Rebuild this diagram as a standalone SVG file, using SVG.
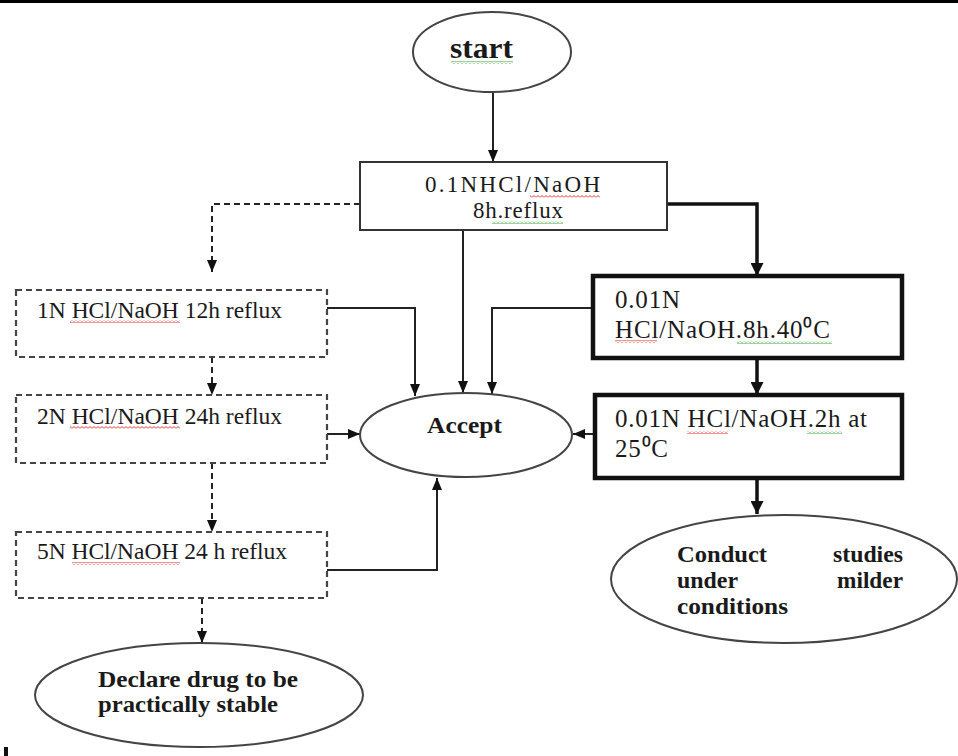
<svg xmlns="http://www.w3.org/2000/svg" width="958" height="756" viewBox="0 0 958 756">
  <style>
    .txt { font-family: "Liberation Serif", "Times New Roman", serif; font-size: 23.5px; fill: #1a1a1a; }
    .bold { font-weight: bold; }
    .lg { font-size: 29px; }
    .md { font-size: 23.5px; }
    .wide { font-size: 25px; }
    .tight { font-size: 23px; }
    .box { fill: #ffffff; stroke: #333333; stroke-width: 2; }
    .dash { fill: #ffffff; stroke: #444444; stroke-width: 2.2; stroke-dasharray: 6 4; }
    .heavy { fill: #ffffff; stroke: #111111; stroke-width: 4.5; }
    .oval { fill: #ffffff; stroke: #444444; stroke-width: 2; }
    .wire { fill: none; stroke: #222222; stroke-width: 2; }
    .wire.dashed { stroke-dasharray: 6 4; }
    .wire.thick { stroke: #111111; stroke-width: 3.5; }
    .squig-red { fill: url(#waveRed); }
    .squig-green { fill: url(#waveGreen); }
  </style>
  <defs>
    <marker id="head" viewBox="0 0 12 10" refX="12" refY="5" markerWidth="12" markerHeight="10" markerUnits="userSpaceOnUse" orient="auto">
      <path d="M0,0 L12,5 L0,10 z" fill="#111111"/>
    </marker>
    <marker id="headThick" viewBox="0 0 12 12" refX="12" refY="6" markerWidth="13" markerHeight="13" markerUnits="userSpaceOnUse" orient="auto">
      <path d="M0,0 L12,6 L0,12 z" fill="#111111"/>
    </marker>
    <pattern id="waveRed" width="4" height="3" patternUnits="userSpaceOnUse">
      <path d="M0,2.5 L2,0.5 L4,2.5" fill="none" stroke="#e03030" stroke-width="1"/>
    </pattern>
    <pattern id="waveGreen" width="4" height="3" patternUnits="userSpaceOnUse">
      <path d="M0,2.5 L2,0.5 L4,2.5" fill="none" stroke="#3aa83a" stroke-width="1"/>
    </pattern>
  </defs>

  <rect x="0" y="0" width="958" height="756" fill="#ffffff"/>
  <!-- page edge strip at the top and a stray mark at the lower left -->
  <rect x="0" y="0" width="958" height="3" fill="#000000"/>
  <rect x="4" y="747" width="4" height="9" fill="#111111"/>

  <g id="connectors">
    <path class="wire" d="M493,93 V162" marker-end="url(#head)"/>
    <path class="wire dashed" d="M360,204 H212 V272" marker-end="url(#head)"/>
    <path class="wire" d="M327,308 H415 V396" marker-end="url(#head)"/>
    <path class="wire" d="M463,230 V393" marker-end="url(#head)"/>
    <path class="wire" d="M593,308 H492 V394" marker-end="url(#head)"/>
    <path class="wire thick" d="M667,204 H757 V276" marker-end="url(#headThick)"/>
    <path class="wire dashed" d="M212,357 V395" marker-end="url(#head)"/>
    <path class="wire" d="M327,434 H360" marker-end="url(#head)"/>
    <path class="wire thick" d="M757,358 V395" marker-end="url(#headThick)"/>
    <path class="wire" d="M595,434 H573" marker-end="url(#head)"/>
    <path class="wire thick" d="M757,478 V514" marker-end="url(#headThick)"/>
    <path class="wire dashed" d="M212,463 V532" marker-end="url(#head)"/>
    <path class="wire" d="M327,570 H437 V478" marker-end="url(#head)"/>
    <path class="wire dashed" d="M202,598 V643" marker-end="url(#head)"/>
  </g>

  <g id="start">
    <ellipse class="oval" cx="492" cy="52" rx="79" ry="40"/>
    <text class="txt bold lg" x="450" y="58" textLength="63" lengthAdjust="spacingAndGlyphs">start</text>
    <rect class="squig-green" x="451" y="61" width="62" height="3"/>
  </g>

  <g id="reflux-01N">
    <rect class="box" x="360" y="162" width="307" height="68"/>
    <text class="txt tight" x="425" y="192" textLength="175">0.1NHCl/NaOH</text>
    <text class="txt tight" x="473" y="218" textLength="90">8h.reflux</text>
    <rect class="squig-red" x="530" y="195" width="70" height="3"/>
    <rect class="squig-green" x="492" y="221" width="71" height="3"/>
  </g>

  <g id="reflux-1N">
    <rect class="dash" x="16" y="290" width="311" height="67"/>
    <text class="txt" x="37" y="318" textLength="245">1N HCl/NaOH 12h reflux</text>
    <rect class="squig-red" x="70" y="320" width="110" height="3"/>
  </g>

  <g id="reflux-2N">
    <rect class="dash" x="16" y="395" width="311" height="68"/>
    <text class="txt" x="37" y="424" textLength="245">2N HCl/NaOH 24h reflux</text>
    <rect class="squig-red" x="70" y="426" width="110" height="3"/>
  </g>

  <g id="reflux-5N">
    <rect class="dash" x="16" y="532" width="311" height="66"/>
    <text class="txt" x="37" y="559" textLength="250">5N HCl/NaOH 24 h reflux</text>
    <rect class="squig-red" x="72" y="562" width="108" height="3"/>
  </g>

  <g id="accept">
    <ellipse class="oval" cx="466" cy="435" rx="106" ry="42"/>
    <text class="txt bold md" x="427" y="433" textLength="75" lengthAdjust="spacingAndGlyphs">Accept</text>
  </g>

  <g id="mild-8h-40C">
    <rect class="heavy" x="593" y="276" width="309" height="82"/>
    <text class="txt wide" x="615" y="308" textLength="65">0.01N</text>
    <text class="txt wide" x="615" y="338" textLength="215">HCl/NaOH.8h.40⁰C</text>
    <rect class="squig-red" x="615" y="340" width="42" height="3"/>
    <rect class="squig-green" x="737" y="341" width="95" height="3"/>
  </g>

  <g id="mild-2h-25C">
    <rect class="heavy" x="595" y="395" width="307" height="83"/>
    <text class="txt wide" x="615" y="427" textLength="252">0.01N HCl/NaOH.2h at</text>
    <text class="txt wide" x="615" y="457" textLength="53">25⁰C</text>
    <rect class="squig-red" x="687" y="431" width="41" height="3"/>
    <rect class="squig-green" x="807" y="431" width="35" height="3"/>
  </g>

  <g id="milder-conditions">
    <ellipse class="oval" cx="784" cy="579" rx="173" ry="64"/>
    <text class="txt bold md" x="677" y="562" textLength="90" lengthAdjust="spacingAndGlyphs">Conduct</text>
    <text class="txt bold md" x="833" y="562" textLength="70" lengthAdjust="spacingAndGlyphs">studies</text>
    <text class="txt bold md" x="677" y="588" textLength="61" lengthAdjust="spacingAndGlyphs">under</text>
    <text class="txt bold md" x="837" y="588" textLength="66" lengthAdjust="spacingAndGlyphs">milder</text>
    <text class="txt bold md" x="677" y="614" textLength="111" lengthAdjust="spacingAndGlyphs">conditions</text>
  </g>

  <g id="stable">
    <ellipse class="oval" cx="199" cy="695" rx="164" ry="52"/>
    <text class="txt bold md" x="98" y="687" textLength="200" lengthAdjust="spacingAndGlyphs">Declare drug to be</text>
    <text class="txt bold md" x="98" y="712" textLength="180" lengthAdjust="spacingAndGlyphs">practically stable</text>
  </g>
</svg>
